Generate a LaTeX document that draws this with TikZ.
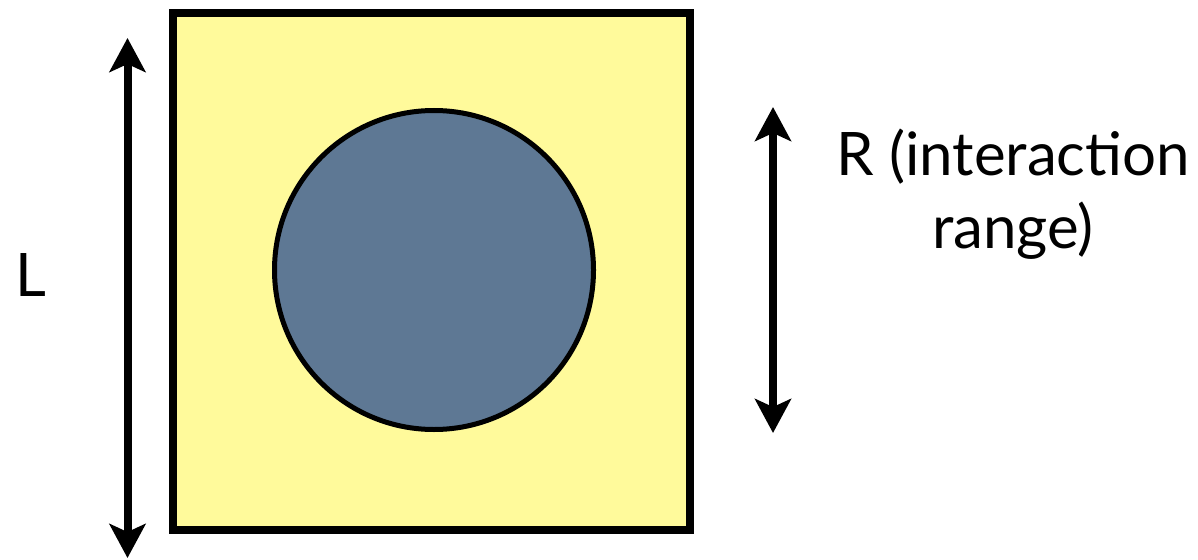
\documentclass[tikz,border=0pt]{standalone}
\usepackage{fontspec}
\setmainfont{Lato}
\usetikzlibrary{arrows.meta}
\definecolor{boxyellow}{RGB}{255,250,155}
\definecolor{diskblue}{RGB}{94,120,148}
\tikzset{
  dimarrow/.style={line width=8pt, {Stealth[length=34pt 0, width=36pt 0, inset=8pt 0]}-{Stealth[length=34pt 0, width=36pt 0, inset=8pt 0]}},
  lbl/.style={anchor=base, inner sep=0pt, font=\fontsize{60}{72}\selectfont}
}
\begin{document}
\begin{tikzpicture}[x=1pt, y=-1pt]
\useasboundingbox (0,0) rectangle (1198,559);
\node (box) [draw=black, fill=boxyellow, line width=8pt, minimum width=517pt, minimum height=517pt, inner sep=0pt] at (431.5,271.5) {};
\node (disk) [circle, draw=black, fill=diskblue, line width=5pt, minimum size=319pt, inner sep=0pt] at (434,270) {};
\coordinate (ltop) at (127.5,38);
\coordinate (lbot) at (127.5,558);
\coordinate (rtop) at (773,107);
\coordinate (rbot) at (773,433);
\draw[dimarrow] (ltop) -- (lbot);
\draw[dimarrow] (rtop) -- (rbot);
\node (L) [lbl] at (31,296) {L};
\node (R1) [lbl] at (1013,175) {R (interaction};
\node (R2) [lbl] at (1013,248) {range)};
\end{tikzpicture}
\end{document}
